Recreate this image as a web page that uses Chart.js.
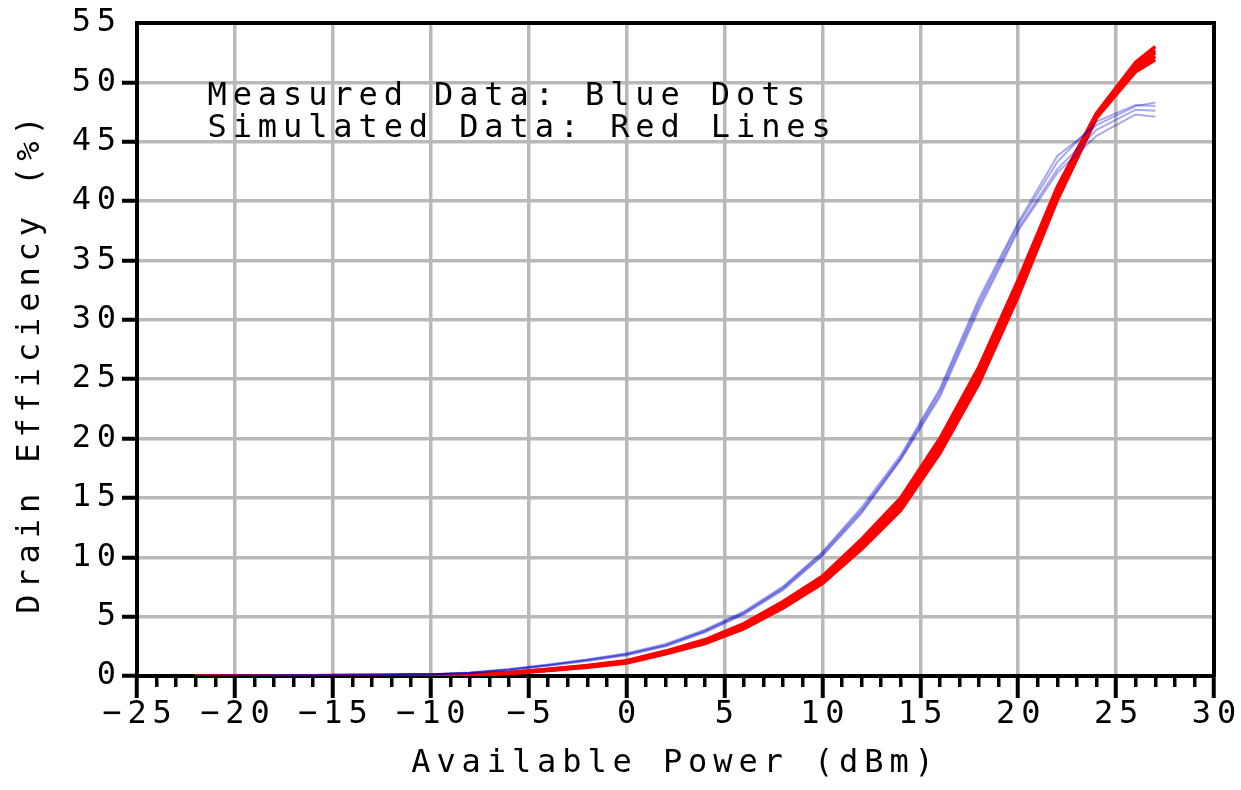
<!DOCTYPE html>
<html>
<head>
<meta charset="utf-8">
<title>Drain Efficiency vs Available Power</title>
<script src="https://cdn.jsdelivr.net/npm/chart.js@4.4.1/dist/chart.umd.min.js"></script>
<style>
  html, body { margin: 0; padding: 0; background: #ffffff; }
  canvas { display: block; }
</style>
</head>
<body>
<canvas id="chart" width="1241" height="790"></canvas>
<script>
// Swept input power (dBm)
const availablePower = [-22, -20, -18, -16, -14, -12, -10, -8, -6, -4, -2, 0, 2, 4, 6, 8, 10, 12, 14, 16, 18, 20, 22, 24, 26, 27];

// Simulated drain efficiency (%), one array per simulation run
const simulatedRun1 = [0.02, 0.02, 0.03, 0.03, 0.04, 0.05, 0.08, 0.14, 0.30, 0.57, 0.89, 1.28, 2.10, 3.05, 4.42, 6.28, 8.40, 11.52, 15.0, 20.0, 26.05, 33.35, 41.2, 47.4, 51.7, 53.0];
const simulatedRun2 = [0.02, 0.02, 0.03, 0.03, 0.04, 0.05, 0.07, 0.13, 0.28, 0.54, 0.85, 1.24, 2.05, 2.98, 4.31, 6.14, 8.25, 11.31, 14.75, 19.7, 25.7, 33.0, 40.9, 47.3, 51.5, 52.7];
const simulatedRun3 = [0.02, 0.02, 0.03, 0.03, 0.04, 0.05, 0.07, 0.12, 0.26, 0.52, 0.82, 1.20, 2.00, 2.90, 4.20, 6.00, 8.10, 11.10, 14.50, 19.4, 25.4, 32.7, 40.6, 47.2, 51.3, 52.5];
const simulatedRun4 = [0.01, 0.02, 0.02, 0.03, 0.03, 0.04, 0.06, 0.11, 0.24, 0.49, 0.78, 1.15, 1.94, 2.82, 4.09, 5.86, 7.94, 10.89, 14.23, 19.08, 25.05, 32.35, 40.35, 47.1, 51.1, 52.2];
const simulatedRun5 = [0.01, 0.01, 0.02, 0.02, 0.03, 0.04, 0.06, 0.10, 0.22, 0.46, 0.74, 1.10, 1.88, 2.74, 3.98, 5.72, 7.78, 10.68, 13.95, 18.75, 24.65, 31.95, 40.1, 47.0, 50.9, 51.9];

// Measured drain efficiency (%), one array per measured device
const measuredDevice1 = [0.03, 0.04, 0.05, 0.06, 0.08, 0.10, 0.15, 0.30, 0.58, 0.96, 1.40, 1.92, 2.70, 3.90, 5.45, 7.55, 10.45, 14.2, 18.6, 24.2, 31.8, 38.2, 43.8, 46.4, 48.0, 48.3];
const measuredDevice2 = [0.03, 0.04, 0.05, 0.06, 0.07, 0.10, 0.14, 0.28, 0.55, 0.93, 1.36, 1.86, 2.62, 3.82, 5.35, 7.45, 10.35, 14.0, 18.4, 24.0, 31.5, 38.0, 43.3, 46.7, 48.1, 48.0];
const measuredDevice3 = [0.02, 0.03, 0.04, 0.05, 0.07, 0.09, 0.13, 0.27, 0.53, 0.90, 1.32, 1.80, 2.56, 3.75, 5.28, 7.35, 10.2, 13.85, 18.3, 23.7, 31.2, 37.7, 42.7, 46.0, 47.7, 47.6];
const measuredDevice4 = [0.02, 0.03, 0.04, 0.05, 0.06, 0.09, 0.12, 0.25, 0.50, 0.86, 1.27, 1.74, 2.50, 3.68, 5.20, 7.25, 10.1, 13.7, 18.2, 23.5, 30.9, 37.5, 42.4, 45.5, 47.3, 47.1];

// Axis ranges and tick steps
const xAxisRange = [-25, 30];
const xMinorStep = 1;
const xMajorStep = 5;
const yAxisRange = [0, 55];
const yStep = 5;

// Texts
const xAxisTitle = 'Available Power (dBm)';
const yAxisTitle = 'Drain Efficiency (%) ';
const noteLines = ['Measured Data: Blue Dots', 'Simulated Data: Red Lines'];

// ---- styling ----
const plotterFont = { family: '"DejaVu Sans Mono", monospace', size: 32, weight: 'normal' };
const letterGap = '5.9px';
const gridGray = '#b9b9b9';
const clear = 'rgba(0,0,0,0)';
const simulatedColor = '#ff0000';
const measuredColor = 'rgba(0,0,205,0.34)';

const minusSign = v => (v < 0 ? '\u2212' + Math.abs(v) : String(v));

const asPoints = ys => availablePower.map((x, i) => ({ x, y: ys[i] }));

const simulatedSets = [simulatedRun1, simulatedRun2, simulatedRun3, simulatedRun4, simulatedRun5].map((ys, i) => ({
  label: 'Simulated ' + (i + 1),
  data: asPoints(ys),
  borderColor: simulatedColor,
  borderWidth: 3.5,
  pointRadius: 0,
  tension: 0,
  order: 2
}));

const measuredSets = [measuredDevice1, measuredDevice2, measuredDevice3, measuredDevice4].map((ys, i) => ({
  label: 'Measured ' + (i + 1),
  data: asPoints(ys),
  borderColor: measuredColor,
  borderWidth: 2,
  pointRadius: 0,
  tension: 0,
  order: 1
}));

// Wide plotter-style character spacing for every text on the canvas
const spacingPlugin = {
  id: 'plotterSpacing',
  beforeDraw(chart) { chart.ctx.letterSpacing = letterGap; }
};

// Two-line note inside the plot, placed in data coordinates
const noteAnchor = { x: -21.4, y: [48.1, 45.4] };
const notePlugin = {
  id: 'plotNotes',
  afterDraw(chart) {
    const { ctx, scales } = chart;
    ctx.save();
    ctx.letterSpacing = letterGap;
    ctx.font = `${plotterFont.size}px ${plotterFont.family}`;
    ctx.fillStyle = '#000';
    ctx.textAlign = 'left';
    ctx.textBaseline = 'alphabetic';
    noteLines.forEach((line, i) => {
      ctx.fillText(line, scales.x.getPixelForValue(noteAnchor.x), scales.y.getPixelForValue(noteAnchor.y[i]));
    });
    ctx.restore();
  }
};

const isMajorX = c => c.tick && Math.abs(c.tick.value % xMajorStep) < 1e-9;

new Chart(document.getElementById('chart'), {
  type: 'line',
  data: { datasets: [...simulatedSets, ...measuredSets] },
  plugins: [spacingPlugin, notePlugin],
  options: {
    responsive: false,
    animation: false,
    devicePixelRatio: 1,
    layout: { padding: { top: 23, right: 27, bottom: 0, left: 0 } },
    plugins: { legend: { display: false }, title: { display: false }, tooltip: { enabled: false } },
    scales: {
      x: {
        type: 'linear',
        position: 'bottom',
        min: xAxisRange[0],
        max: xAxisRange[1],
        afterFit: s => { s.height = 114; },
        ticks: {
          stepSize: xMinorStep,
          autoSkip: false,
          maxRotation: 0,
          minRotation: 0,
          padding: -3,
          labelOffset: 3,
          color: '#000',
          font: plotterFont,
          callback: v => (Math.abs(v % xMajorStep) < 1e-9 ? minusSign(v) : '')
        },
        grid: {
          color: c => (isMajorX(c) && c.tick.value !== xAxisRange[0] && c.tick.value !== xAxisRange[1] ? gridGray : clear),
          lineWidth: 3.5,
          tickLength: 22,
          tickColor: '#000',
          tickWidth: c => (isMajorX(c) ? 4 : 3.5),
          tickBorderDash: c => (isMajorX(c) ? [] : [9, 60])
        },
        border: { color: '#000', width: 4 },
        title: { display: true, text: xAxisTitle, color: '#000', font: plotterFont, padding: { top: 0, bottom: 7 } }
      },
      y: {
        type: 'linear',
        position: 'left',
        min: yAxisRange[0],
        max: yAxisRange[1],
        afterFit: s => { s.width = 137; },
        ticks: { stepSize: yStep, padding: 0, color: '#000', font: plotterFont },
        grid: {
          color: c => (c.tick && c.tick.value !== yAxisRange[0] && c.tick.value !== yAxisRange[1] ? gridGray : clear),
          lineWidth: 3.5,
          tickLength: 15,
          tickColor: c => (c.tick && c.tick.value === yAxisRange[1] ? clear : '#000'),
          tickWidth: 4
        },
        border: { color: '#000', width: 4 },
        title: { display: true, text: yAxisTitle, color: '#000', font: plotterFont, padding: { top: 11, bottom: 0 } }
      },
      xTop: {
        type: 'linear',
        position: 'top',
        min: xAxisRange[0],
        max: xAxisRange[1],
        afterFit: s => { s.height = 0; },
        ticks: { display: false },
        grid: { display: false, drawTicks: false },
        border: { display: true, color: '#000', width: 4 }
      },
      yRight: {
        type: 'linear',
        position: 'right',
        min: yAxisRange[0],
        max: yAxisRange[1],
        afterFit: s => { s.width = 0; },
        ticks: { display: false },
        grid: { display: false, drawTicks: false },
        border: { display: true, color: '#000', width: 4 }
      }
    }
  }
});
</script>
</body>
</html>
